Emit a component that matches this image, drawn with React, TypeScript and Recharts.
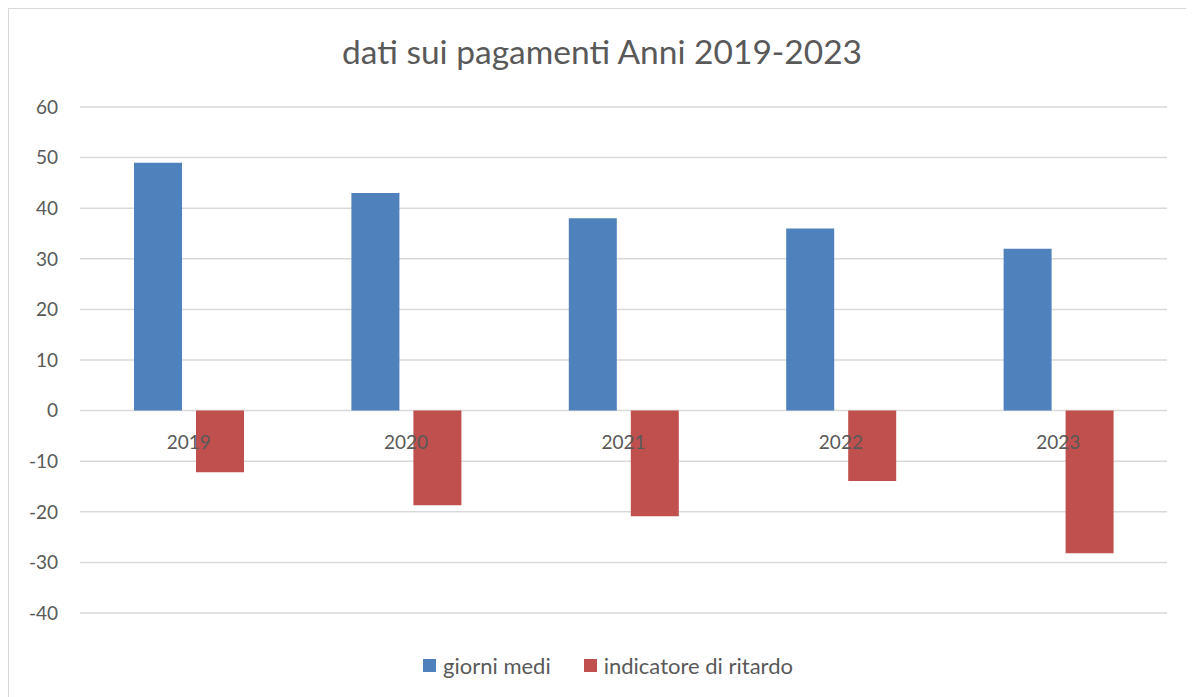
import { BarChart, Bar, XAxis, YAxis, CartesianGrid, Legend } from 'recharts';

const YEARS = ['2019', '2020', '2021', '2022', '2023'];
const GIORNI_MEDI = [49, 43, 38, 36, 32];
const INDICATORE_RITARDO = [-12.2, -18.7, -20.9, -13.9, -28.2];
const Y_TICKS = [-40, -30, -20, -10, 0, 10, 20, 30, 40, 50, 60];

const BLUE = '#4f81bd';
const RED = '#c0504d';
const GRID = '#d9d9d9';
const TEXT = '#595959';
const FONT = 'Lato, "Open Sans", sans-serif';

const W = 1186;
const H = 689;
const MARGIN = { top: 98, right: 28, left: 0, bottom: 15 };
const Y_MIN = -40;
const Y_MAX = 60;
const PLOT_H = 506;
const ZERO_Y = MARGIN.top + ((Y_MAX - 0) / (Y_MAX - Y_MIN)) * PLOT_H;

const data = YEARS.map((year, i) => ({
  year,
  giorni: GIORNI_MEDI[i],
  ritardo: INDICATORE_RITARDO[i],
}));

type TickProps = { x?: number; payload?: { value: string } };

function YearTick({ x, payload }: TickProps) {
  return (
    <text x={x} y={ZERO_Y + 32} textAnchor="middle" dy="0.355em" fill={TEXT} fontSize={19} fontFamily={FONT}>
      {payload?.value}
    </text>
  );
}

type LegendItem = { value?: string; color?: string };

function LegendContent({ payload }: { payload?: LegendItem[] }) {
  return (
    <div
      style={{
        display: 'flex',
        justifyContent: 'center',
        gap: 33,
        paddingLeft: 40,
        fontFamily: FONT,
        fontSize: 22,
        color: TEXT,
      }}
    >
      {(payload ?? []).map((p) => (
        <div key={p.value} style={{ display: 'flex', alignItems: 'center', gap: 7 }}>
          <span style={{ width: 13, height: 13, background: p.color, display: 'inline-block' }} />
          <span>{p.value}</span>
        </div>
      ))}
    </div>
  );
}

export default function App() {
  return (
    <div style={{ position: 'relative', width: W, height: H + 10, border: `1px solid ${GRID}`, background: '#fff' }}>
      <div
        style={{
          position: 'absolute',
          top: 22,
          left: 0,
          width: W,
          textAlign: 'center',
          fontFamily: FONT,
          fontSize: 33.5,
          color: TEXT,
        }}
      >
        dati sui pagamenti Anni 2019-2023
      </div>
      <BarChart width={W} height={H} data={data} margin={MARGIN} barSize={48} barGap={14}>
        <CartesianGrid vertical={false} stroke={GRID} strokeWidth={1.5} />
        <XAxis dataKey="year" axisLine={false} tickLine={false} height={30} tick={<YearTick />} interval={0} />
        <YAxis
          domain={[Y_MIN, Y_MAX]}
          ticks={Y_TICKS}
          width={71}
          axisLine={false}
          tickLine={false}
          tickMargin={16}
          tick={{ fill: TEXT, fontSize: 19, fontFamily: FONT }}
          interval={0}
        />
        <Legend verticalAlign="bottom" height={40} wrapperStyle={{ top: 643 }} content={<LegendContent />} />
        <Bar dataKey="giorni" name="giorni medi" fill={BLUE} isAnimationActive={false} />
        <Bar dataKey="ritardo" name="indicatore di ritardo" fill={RED} isAnimationActive={false} />
      </BarChart>
    </div>
  );
}
